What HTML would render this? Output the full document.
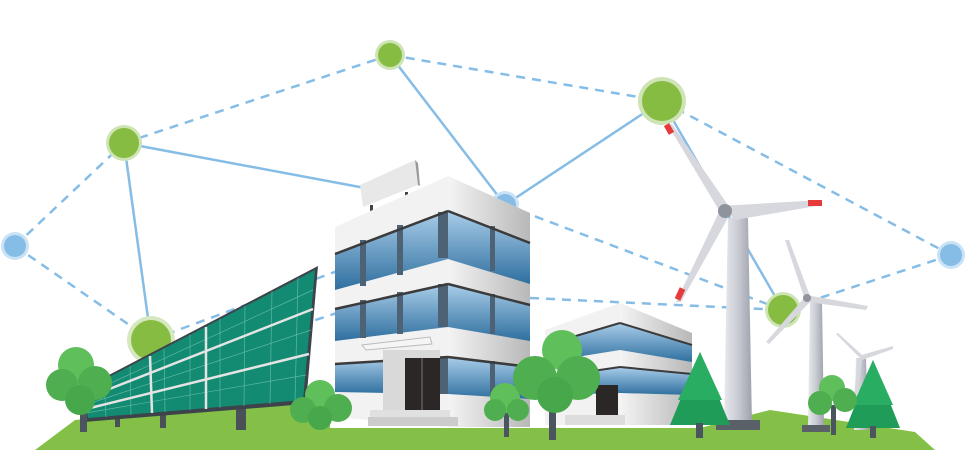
<!DOCTYPE html>
<html><head><meta charset="utf-8"><style>html,body{margin:0;padding:0;background:#fff}svg{display:block}</style></head>
<body>
<svg width="966" height="450" viewBox="0 0 966 450" xmlns="http://www.w3.org/2000/svg">
<defs>
<linearGradient id="glass" x1="0" y1="0" x2="0" y2="1"><stop offset="0" stop-color="#a9cde9"/><stop offset="1" stop-color="#2f6f9f"/></linearGradient>
<linearGradient id="wall" x1="0" y1="0" x2="1" y2="0"><stop offset="0" stop-color="#f4f4f4"/><stop offset="1" stop-color="#b8b8b8"/></linearGradient>
<linearGradient id="tower" x1="0" y1="0" x2="1" y2="0"><stop offset="0" stop-color="#e8e9ee"/><stop offset="0.5" stop-color="#c9cbd3"/><stop offset="1" stop-color="#9ea1ab"/></linearGradient>
</defs>
<g stroke="#86bde6" stroke-width="2.5" fill="none">
<line x1="124" y1="143" x2="365" y2="188"/>
<line x1="124" y1="143" x2="151" y2="340"/>
<line x1="390" y1="55" x2="505" y2="205"/>
<line x1="505" y1="205" x2="662" y2="101"/>
<line x1="662" y1="101" x2="783" y2="310"/>
</g>
<g stroke="#86bde6" stroke-width="2.5" fill="none" stroke-dasharray="9 7">
<line x1="15" y1="246" x2="124" y2="143"/>
<line x1="15" y1="246" x2="151" y2="340"/>
<line x1="124" y1="143" x2="390" y2="55"/>
<line x1="390" y1="55" x2="662" y2="101"/>
<line x1="662" y1="101" x2="951" y2="255"/>
<line x1="951" y1="255" x2="783" y2="310"/>
<line x1="151" y1="340" x2="340" y2="270"/>
<line x1="505" y1="205" x2="783" y2="310"/>
<line x1="530" y1="298" x2="783" y2="310"/>
<line x1="300" y1="325" x2="340" y2="312"/>
</g>
<g>
<circle cx="390" cy="55" r="15" fill="#cfe4b4"/><circle cx="390" cy="55" r="12" fill="#86bc42"/>
<circle cx="124" cy="143" r="18" fill="#cfe4b4"/><circle cx="124" cy="143" r="15" fill="#86bc42"/>
<circle cx="662" cy="101" r="24" fill="#cfe4b4"/><circle cx="662" cy="101" r="20" fill="#86bc42"/>
<circle cx="151" cy="340" r="24" fill="#d6e8c0"/><circle cx="151" cy="340" r="20" fill="#86bc42"/>
<circle cx="783" cy="310" r="18" fill="#cfe4b4"/><circle cx="783" cy="310" r="15" fill="#86bc42"/>
<circle cx="15" cy="246" r="14" fill="#c9e2f5"/><circle cx="15" cy="246" r="11" fill="#86bde6"/>
<circle cx="505" cy="205" r="14" fill="#c9e2f5"/><circle cx="505" cy="205" r="11" fill="#86bde6"/>
<circle cx="951" cy="255" r="14" fill="#c9e2f5"/><circle cx="951" cy="255" r="11" fill="#86bde6"/>
</g>
<polygon points="35,450 75,420 330,393 330,428 700,428 770,410 915,432 935,450" fill="#84c047"/>
<g>
<rect x="236" y="400" width="10" height="30" fill="#4a5057"/>
<rect x="160" y="410" width="6" height="18" fill="#4a5057"/>
<rect x="115" y="415" width="5" height="12" fill="#4a5057"/>
<polygon points="80,390 318,266 306,404 84,422" fill="#3d434a"/>
<polygon points="84,390 315,270 303,400 88,418" fill="#138a72"/>
<g stroke="#7ccdb8" stroke-width="0.7" opacity="0.7">
<line x1="85" y1="395" x2="313" y2="290"/><line x1="85" y1="405" x2="311" y2="330"/><line x1="86" y1="413" x2="306" y2="375"/>
<line x1="104" y1="380" x2="106" y2="417"/><line x1="130" y1="366" x2="131" y2="415"/><line x1="164" y1="349" x2="165" y2="412"/><line x1="190" y1="335" x2="190" y2="410"/><line x1="220" y1="319" x2="220" y2="408"/><line x1="245" y1="306" x2="244" y2="406"/><line x1="272" y1="291" x2="270" y2="404"/><line x1="298" y1="278" x2="295" y2="401"/>
</g>
<g stroke="#e4e4e4" stroke-width="2.5"><line x1="84" y1="399" x2="313" y2="309"/><line x1="86" y1="409" x2="309" y2="354"/><line x1="150" y1="356" x2="152" y2="413"/><line x1="206" y1="327" x2="206" y2="409"/></g>
</g>
<g>
<polygon points="360,185 415,160 418,185 363,207" fill="#e8e8e8"/>
<polygon points="415,160 418,163 420,186 418,185" fill="#999"/>
<rect x="370" y="205" width="3" height="10" fill="#444"/><rect x="405" y="192" width="3" height="10" fill="#444"/>
<polygon points="335,227 448,176 448,427 335,417" fill="#f2f2f2"/>
<polygon points="335,254 448,211 448,259 335,290" fill="url(#glass)"/>
<polygon points="335,309 448,284 448,327 335,341" fill="url(#glass)"/>
<polygon points="335,364 448,357 448,394 335,392" fill="url(#glass)"/>
<g fill="#4d6275"><rect x="360" y="240" width="6" height="46"/><rect x="397" y="225" width="6" height="50"/><rect x="360" y="300" width="6" height="38"/><rect x="397" y="292" width="6" height="42"/><rect x="438" y="212" width="10" height="46"/><rect x="438" y="284" width="10" height="43"/><rect x="438" y="357" width="10" height="37"/></g>
<g stroke="#3b3b3b" stroke-width="2.5"><line x1="335" y1="254" x2="448" y2="211"/><line x1="335" y1="309" x2="448" y2="284"/><line x1="335" y1="364" x2="448" y2="357"/></g>
<polygon points="448,176 530,213 530,427 448,427" fill="url(#wall)"/>
<polygon points="448,211 530,243 530,284 448,259" fill="url(#glass)"/>
<polygon points="448,284 530,305 530,341 448,327" fill="url(#glass)"/>
<polygon points="448,357 530,367 530,399 448,394" fill="url(#glass)"/>
<g fill="#4d6275"><rect x="490" y="226" width="5" height="45"/><rect x="490" y="294" width="5" height="40"/><rect x="490" y="361" width="5" height="35"/></g>
<g stroke="#3b3b3b" stroke-width="2.5"><line x1="448" y1="211" x2="530" y2="243"/><line x1="448" y1="284" x2="530" y2="305"/><line x1="448" y1="357" x2="530" y2="367"/></g>
<rect x="383" y="350" width="57" height="60" fill="#d9d9d9"/>
<polygon points="362,345 430,337 432,344 366,350" fill="#f5f5f5" stroke="#bbb" stroke-width="1"/>
<rect x="405" y="358" width="35" height="52" fill="#2b2727"/>
<line x1="422" y1="358" x2="422" y2="410" stroke="#777"/>
<rect x="370" y="410" width="80" height="8" fill="#e0e0e0"/><rect x="368" y="417" width="90" height="9" fill="#ccc"/>
</g>
<g>
<polygon points="545,330 620,303 620,425 545,425" fill="#f2f2f2"/>
<polygon points="620,303 692,333 692,425 620,425" fill="url(#wall)"/>
<polygon points="545,345 620,323 620,350 545,362" fill="url(#glass)"/>
<polygon points="620,323 692,345 692,362 620,350" fill="url(#glass)"/>
<polygon points="545,378 620,367 620,393 545,395" fill="url(#glass)"/>
<polygon points="620,367 692,374 692,395 620,393" fill="url(#glass)"/>
<g stroke="#3b3b3b" stroke-width="2"><line x1="545" y1="345" x2="620" y2="323"/><line x1="620" y1="323" x2="692" y2="345"/><line x1="545" y1="378" x2="620" y2="367"/><line x1="620" y1="367" x2="692" y2="374"/></g>
<rect x="596" y="385" width="22" height="30" fill="#2b2727"/>
<rect x="565" y="415" width="60" height="10" fill="#ddd"/>
</g>
<g>
<polygon points="728,218 748,218 752,425 724,425" fill="url(#tower)"/>
<rect x="716" y="420" width="44" height="10" fill="#5a6068"/>
<polygon points="720,206 822,200 822,205 735,220" fill="#d6d8de"/>
<polygon points="720,212 668,125 672,124 730,208" fill="#d6d8de"/>
<polygon points="720,210 676,302 681,302 729,216" fill="#d6d8de"/>
<circle cx="725" cy="211" r="7" fill="#8f939b"/>
<rect x="808" y="200" width="14" height="6" fill="#e53b3b"/><rect x="666" y="124" width="6" height="10" fill="#e53b3b" transform="rotate(-30 669 129)"/><rect x="677" y="288" width="6" height="12" fill="#e53b3b" transform="rotate(25 680 294)"/>
<polygon points="810,300 822,300 824,428 808,428" fill="url(#tower)"/>
<rect x="802" y="425" width="28" height="7" fill="#5a6068"/>
<polygon points="806,295 868,306 866,310 808,302" fill="#d6d8de"/>
<polygon points="804,297 785,240 789,240 810,296" fill="#d6d8de"/>
<polygon points="804,298 766,342 769,344 810,302" fill="#d6d8de"/>
<circle cx="807" cy="298" r="4" fill="#8f939b"/>
<polygon points="856,358 866,358 868,430 854,430" fill="url(#tower)"/>
<polygon points="858,356 893,346 893,349 862,360" fill="#d6d8de"/>
<polygon points="858,356 836,334 838,333 862,355" fill="#d6d8de"/>
<polygon points="858,358 854,396 857,396 862,360" fill="#d6d8de"/>
</g>
<g fill="#1f9c57">
<polygon points="700,352 730,425 670,425"/><polygon points="700,352 722,400 678,400" fill="#28ad63"/>
<rect x="696" y="423" width="7" height="15" fill="#4a5560"/>
<polygon points="873,360 900,428 846,428"/><polygon points="873,360 893,405 853,405" fill="#28ad63"/>
<rect x="870" y="426" width="6" height="12" fill="#4a5560"/>
</g>
<g>
<rect x="80" y="400" width="7" height="32" fill="#4a5560"/>
<circle cx="76" cy="365" r="18" fill="#5fbf5a"/><circle cx="62" cy="385" r="16" fill="#4fae4f"/><circle cx="95" cy="383" r="17" fill="#4fae4f"/><circle cx="80" cy="400" r="15" fill="#47a84b"/>
<circle cx="320" cy="395" r="15" fill="#5fbf5a"/><circle cx="303" cy="410" r="13" fill="#4fae4f"/><circle cx="338" cy="408" r="14" fill="#4fae4f"/><circle cx="320" cy="418" r="12" fill="#47a84b"/>
<rect x="504" y="412" width="5" height="25" fill="#4a5560"/>
<circle cx="505" cy="398" r="15" fill="#5fbf5a"/><circle cx="495" cy="410" r="11" fill="#4fae4f"/><circle cx="518" cy="410" r="11" fill="#4fae4f"/>
<rect x="549" y="400" width="7" height="40" fill="#4a5560"/>
<circle cx="562" cy="350" r="20" fill="#5fbf5a"/><circle cx="535" cy="378" r="22" fill="#4fae4f"/><circle cx="578" cy="378" r="22" fill="#4fae4f"/><circle cx="555" cy="395" r="18" fill="#47a84b"/>
<rect x="831" y="405" width="5" height="30" fill="#4a5560"/>
<circle cx="832" cy="388" r="13" fill="#5fbf5a"/><circle cx="820" cy="403" r="12" fill="#4fae4f"/><circle cx="845" cy="400" r="12" fill="#4fae4f"/>
</g>
</svg>
</body></html>
